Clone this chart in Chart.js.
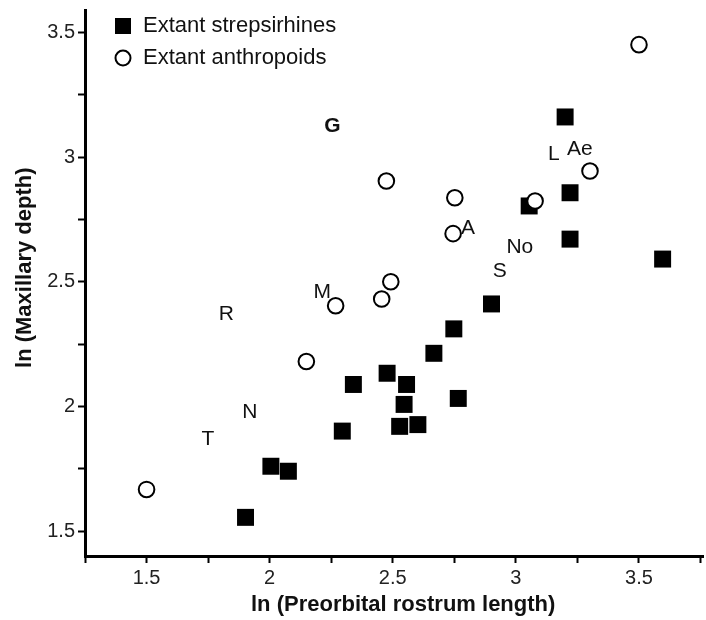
<!DOCTYPE html>
<html>
<head>
<meta charset="utf-8">
<script src="https://cdn.jsdelivr.net/npm/chart.js@4.4.1/dist/chart.umd.min.js"></script>
<style>
  html, body { margin: 0; padding: 0; background: #fff; }
  #c { display: block; }
</style>
</head>
<body>
<canvas id="c" width="706" height="620" style="width:706px;height:620px"></canvas>
<script>
// ---- Data ----
const strepLabel = 'Extant strepsirhines';
const strepX = [3.200, 3.220, 3.054, 3.220, 3.596, 2.901, 2.748, 2.667, 2.477, 2.556, 2.340, 2.766, 2.546, 2.528, 2.602, 2.295, 2.005, 2.076, 1.902];
const strepY = [3.161, 2.857, 2.804, 2.671, 2.591, 2.411, 2.311, 2.213, 2.133, 2.088, 2.088, 2.032, 2.008, 1.920, 1.927, 1.901, 1.760, 1.740, 1.555];

const anthLabel = 'Extant anthropoids';
const anthX = [1.500, 2.149, 2.268, 2.455, 2.492, 2.474, 2.752, 2.745, 3.078, 3.301, 3.500];
const anthY = [1.667, 2.180, 2.404, 2.431, 2.500, 2.904, 2.837, 2.693, 2.824, 2.944, 3.451];

const annoText = ['G', 'R', 'M', 'T', 'N', 'A', 'No', 'S', 'L', 'Ae'];
const annoX    = [2.255, 1.824, 2.214, 1.749, 1.919, 2.806, 3.016, 2.935, 3.154, 3.260];
const annoY    = [3.124, 2.371, 2.460, 1.867, 1.977, 2.715, 2.640, 2.544, 3.011, 3.031];
const annoBold = [true, false, false, false, false, false, false, false, false, false];

const xTitle = 'ln (Preorbital rostrum length)';
const yTitle = 'ln (Maxillary depth)';
const xMin = 1.25, xMax = 3.76, yMin = 1.4, yMax = 3.59, tickStep = 0.25;

// ---- Chart ----
const FONT = "'Liberation Sans', Arial, Helvetica, sans-serif";
Chart.defaults.font.family = FONT;

const toPoints = (xs, ys) => xs.map((x, i) => ({ x: x, y: ys[i] }));
const halfLabel = (v) => Math.abs(v * 2 - Math.round(v * 2)) < 1e-9 ? String(v) : '';

const annotationPlugin = {
  id: 'letterLabels',
  afterDatasetsDraw(chart) {
    const ctx = chart.ctx, xs = chart.scales.x, ys = chart.scales.y;
    ctx.save();
    ctx.fillStyle = '#111';
    ctx.textAlign = 'center';
    ctx.textBaseline = 'middle';
    annoText.forEach((t, i) => {
      ctx.font = (annoBold[i] ? 'bold ' : '') + '21px ' + FONT;
      ctx.fillText(t, xs.getPixelForValue(annoX[i]), ys.getPixelForValue(annoY[i]));
    });
    ctx.restore();
  }
};

const legendPlugin = {
  id: 'insideLegend',
  afterDraw(chart) {
    const ctx = chart.ctx, ca = chart.chartArea;
    ctx.save();
    ctx.font = '22px ' + FONT;
    ctx.textBaseline = 'middle';
    ctx.textAlign = 'left';
    chart.data.datasets.forEach((ds, i) => {
      const cx = ca.left + 38, cy = ca.top + 16 + i * 32;
      if (ds.pointStyle === 'rect') {
        ctx.fillStyle = '#000';
        ctx.fillRect(cx - 8, cy - 8, 16, 16);
      } else {
        ctx.beginPath();
        ctx.arc(cx, cy, 7.5, 0, Math.PI * 2);
        ctx.fillStyle = '#fff';
        ctx.fill();
        ctx.lineWidth = 2;
        ctx.strokeStyle = '#000';
        ctx.stroke();
      }
      ctx.fillStyle = '#111';
      ctx.fillText(ds.label, ca.left + 58, cy);
    });
    ctx.restore();
  }
};

const axisCommon = {
  type: 'linear',
  grid: { display: true, drawOnChartArea: false, drawTicks: true, tickLength: 7, tickWidth: 2, tickColor: '#000' },
  border: { display: true, width: 3, color: '#000' }
};

new Chart(document.getElementById('c'), {
  type: 'scatter',
  data: {
    datasets: [
      {
        label: strepLabel,
        data: toPoints(strepX, strepY),
        pointStyle: 'rect',
        pointRadius: 12,
        pointHoverRadius: 12,
        backgroundColor: '#000',
        borderColor: '#000',
        borderWidth: 0,
        order: 1
      },
      {
        label: anthLabel,
        data: toPoints(anthX, anthY),
        pointStyle: 'circle',
        pointRadius: 7.8,
        pointHoverRadius: 7.8,
        backgroundColor: '#fff',
        borderColor: '#000',
        borderWidth: 2,
        order: 0
      }
    ]
  },
  options: {
    responsive: false,
    animation: false,
    layout: { autoPadding: false, padding: { top: 10, right: 3, left: 0, bottom: 0 } },
    plugins: { legend: { display: false }, tooltip: { enabled: false } },
    scales: {
      x: Object.assign({}, axisCommon, {
        min: xMin, max: xMax,
        ticks: { stepSize: tickStep, includeBounds: false, autoSkip: false, maxRotation: 0, callback: halfLabel, font: { size: 20 }, color: '#222', padding: 3 },
        title: { display: true, text: '   ' + xTitle, font: { size: 22, weight: 'bold' }, color: '#111', padding: { top: 0, bottom: 2 } },
        afterFit(s) { s.height = 64; s.paddingLeft = 0; s.paddingRight = 0; }
      }),
      y: Object.assign({}, axisCommon, {
        min: yMin, max: yMax,
        ticks: { stepSize: tickStep, includeBounds: false, autoSkip: false, callback: halfLabel, font: { size: 20 }, color: '#222', padding: 3 },
        title: { display: true, text: '     ' + yTitle, font: { size: 22, weight: 'bold' }, color: '#111', padding: { top: 12, bottom: 0 } },
        afterFit(s) { s.width = 85; s.paddingTop = 0; s.paddingBottom = 0; }
      })
    }
  },
  plugins: [annotationPlugin, legendPlugin]
});
</script>
</body>
</html>
